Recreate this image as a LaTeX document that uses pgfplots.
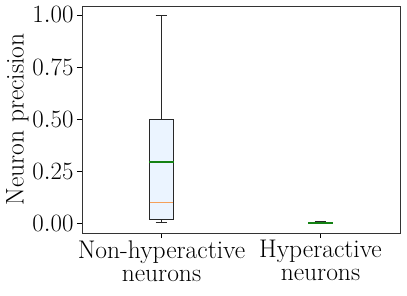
\documentclass[border=0pt]{standalone}
\usepackage{pgfplots}
\pgfplotsset{compat=1.18}
\usetikzlibrary{calc}
\definecolor{boxfill}{RGB}{235,244,255}
\definecolor{boxedge}{RGB}{40,40,40}
\definecolor{meangreen}{RGB}{20,130,20}
\definecolor{medorange}{RGB}{245,160,90}
\begin{document}
\begin{tikzpicture}
\begin{axis}[
  scale only axis,
  width=318pt, height=227pt,
  xmin=0.5, xmax=2.5,
  ymin=-0.045, ymax=1.043,
  xtick={1,2},
  xticklabels={Non-hyperactive\\neurons, Hyperactive\\neurons},
  xticklabel style={align=center, font=\fontsize{25.5}{23}\selectfont, yshift=1pt},
  ytick={0,0.25,0.5,0.75,1},
  yticklabel style={font=\fontsize{25.5}{26}\selectfont, /pgf/number format/.cd, fixed, fixed zerofill, precision=2},
  ylabel={Neuron precision},
  ylabel style={font=\fontsize{25.5}{26}\selectfont, yshift=-3pt},
  tick align=outside,
  tick pos=left,
  major tick length=5pt,
  axis line style={black!80, line width=0.8pt},
  tick style={black, line width=0.8pt},
]
% box 1: Non-hyperactive neurons
\addplot[draw=boxedge, fill=boxfill, line width=0.9pt] coordinates {(0.925,0.022) (1.075,0.022) (1.075,0.5) (0.925,0.5)} -- cycle;
\addplot[boxedge, line width=0.8pt] coordinates {(1,0.5) (1,1.0)};
\addplot[boxedge, line width=0.8pt] coordinates {(1,0.022) (1,0.008)};
\addplot[boxedge, line width=0.8pt] coordinates {(0.9625,1.0) (1.0375,1.0)};
\addplot[boxedge, line width=0.8pt] coordinates {(0.9625,0.008) (1.0375,0.008)};
\addplot[medorange, line width=1.2pt] coordinates {(0.925,0.10) (1.075,0.10)};
\addplot[meangreen, line width=2pt] coordinates {(0.922,0.293) (1.078,0.293)};
% box 2: Hyperactive neurons
\addplot[draw=boxedge, fill=boxfill, line width=0.8pt] coordinates {(1.925,0.002) (2.075,0.002) (2.075,0.007) (1.925,0.007)} -- cycle;
\addplot[boxedge, line width=0.8pt] coordinates {(2,0.007) (2,0.012)};
\addplot[boxedge, line width=0.8pt] coordinates {(2,0.002) (2,0.0)};
\addplot[boxedge, line width=0.8pt] coordinates {(1.9625,0.012) (2.0375,0.012)};
\addplot[boxedge, line width=0.8pt] coordinates {(1.9625,0.0) (2.0375,0.0)};
\addplot[medorange, line width=1.2pt] coordinates {(1.925,0.003) (2.075,0.003)};
\addplot[meangreen, line width=2pt] coordinates {(1.922,0.005) (2.078,0.005)};
\end{axis}
\pgfresetboundingbox
\path ($(current axis.south west)+(-82pt,-62pt)$) rectangle ($(current axis.north east)+(7pt,6pt)$);
\end{tikzpicture}
\end{document}
